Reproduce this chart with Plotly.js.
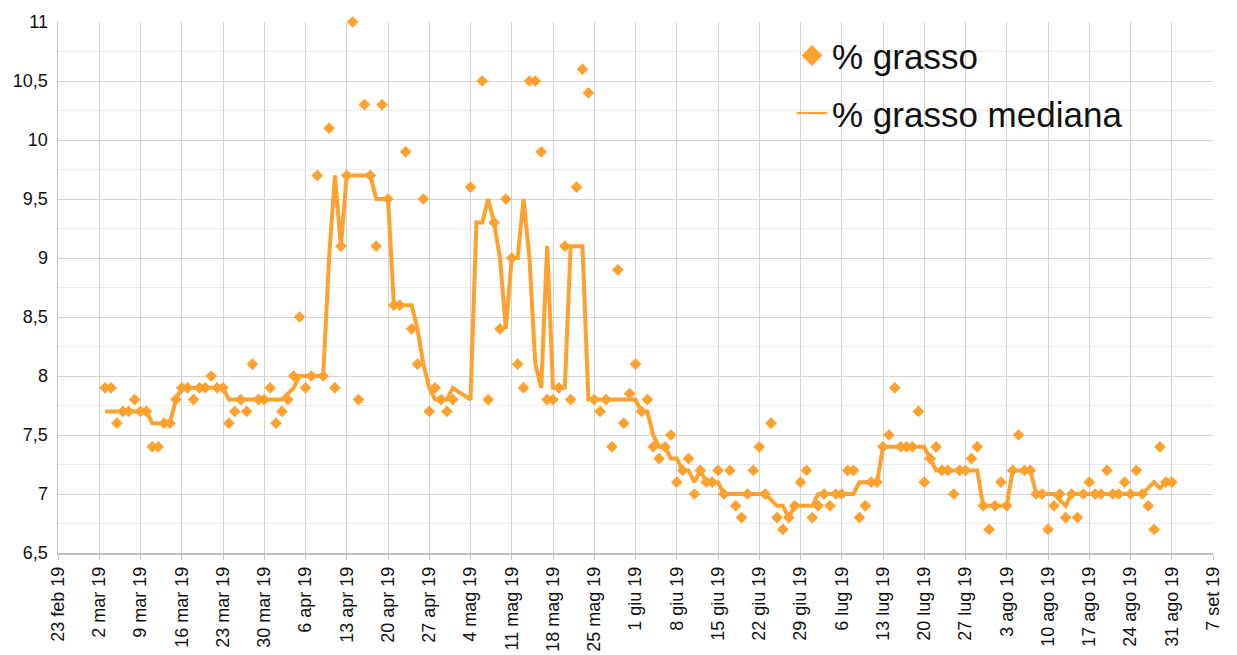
<!DOCTYPE html>
<html>
<head>
<meta charset="utf-8">
<script src="https://cdn.plot.ly/plotly-3.0.1.min.js"></script>
<style>
  html, body { margin: 0; padding: 0; background: #fff; }
  #chart { width: 1237px; height: 655px; }
</style>
</head>
<body>
<div id="chart"></div>
<script>
// one value per day, first day = 3 mar 2019, null = no measurement
var firstDay = '2019-03-03';

var grasso = [
  7.9, 7.9, 7.6, 7.7, 7.7, 7.8, 7.7,
  7.7, 7.4, 7.4, 7.6, 7.6, 7.8, 7.9,
  7.9, 7.8, 7.9, 7.9, 8.0, 7.9, 7.9,
  7.6, 7.7, 7.8, 7.7, 8.1, 7.8, 7.8,
  7.9, 7.6, 7.7, 7.8, 8.0, 8.5, 7.9,
  8.0, 9.7, 8.0, 10.1, 7.9, 9.1, 9.7,
  11.0, 7.8, 10.3, 9.7, 9.1, 10.3, 9.5,
  8.6, 8.6, 9.9, 8.4, 8.1, 9.5, 7.7,
  7.9, 7.8, 7.7, 7.8, null, null, 9.6,
  null, 10.5, 7.8, 9.3, 8.4, 9.5, 9.0,
  8.1, 7.9, 10.5, 10.5, 9.9, 7.8, 7.8,
  7.9, 9.1, 7.8, 9.6, 10.6, 10.4, 7.8,
  7.7, 7.8, 7.4, 8.9, 7.6, 7.85, 8.1,
  7.7, 7.8, 7.4, 7.3, 7.4, 7.5, 7.1,
  7.2, 7.3, 7.0, 7.2, 7.1, 7.1, 7.2,
  7.0, 7.2, 6.9, 6.8, 7.0, 7.2, 7.4,
  7.0, 7.6, 6.8, 6.7, 6.8, 6.9, 7.1,
  7.2, 6.8, 6.9, 7.0, 6.9, 7.0, 7.0,
  7.2, 7.2, 6.8, 6.9, 7.1, 7.1, 7.4,
  7.5, 7.9, 7.4, 7.4, 7.4, 7.7, 7.1,
  7.3, 7.4, 7.2, 7.2, 7.0, 7.2, 7.2,
  7.3, 7.4, 6.9, 6.7, 6.9, 7.1, 6.9,
  7.2, 7.5, 7.2, 7.2, 7.0, 7.0, 6.7,
  6.9, 7.0, 6.8, 7.0, 6.8, 7.0, 7.1,
  7.0, 7.0, 7.2, 7.0, 7.0, 7.1, 7.0,
  7.2, 7.0, 6.9, 6.7, 7.4, 7.1, 7.1
];

var grassoMediana = [
  7.7, 7.7, 7.7, 7.7, 7.7, 7.7, 7.7,
  7.7, 7.6, 7.6, 7.6, 7.6, 7.8, 7.9,
  7.9, 7.9, 7.9, 7.9, 7.9, 7.9, 7.9,
  7.8, 7.8, 7.8, 7.8, 7.8, 7.8, 7.8,
  7.8, 7.8, 7.8, 7.85, 7.9, 8.0, 8.0,
  8.0, 8.0, 8.0, 9.0, 9.7, 9.1, 9.7,
  9.7, 9.7, 9.7, 9.7, 9.5, 9.5, 9.5,
  8.6, 8.6, 8.6, 8.6, 8.4, 8.1, 7.9,
  7.8, 7.8, 7.8, 7.9, null, null, 7.8,
  9.3, 9.3, 9.5, 9.3, 9.0, 8.4, 9.0,
  9.0, 9.5, 9.0, 8.1, 7.9, 9.1, 7.9,
  7.9, 7.9, 9.1, 9.1, 9.1, 7.8, 7.8,
  7.8, 7.8, 7.8, 7.8, 7.8, 7.8, 7.8,
  7.7, 7.7, 7.5, 7.4, 7.4, 7.3, 7.3,
  7.2, 7.2, 7.1, 7.2, 7.1, 7.1, 7.1,
  7.0, 7.0, 7.0, 7.0, 7.0, 7.0, 7.0,
  7.0, 6.95, 6.9, 6.9, 6.8, 6.9, 6.9,
  6.9, 6.9, 7.0, 7.0, 7.0, 7.0, 7.0,
  7.0, 7.0, 7.1, 7.1, 7.1, 7.1, 7.4,
  7.4, 7.4, 7.4, 7.4, 7.4, 7.4, 7.4,
  7.3, 7.2, 7.2, 7.2, 7.2, 7.2, 7.2,
  7.2, 7.2, 6.9, 6.9, 6.9, 6.9, 6.9,
  7.2, 7.2, 7.2, 7.2, 7.0, 7.0, 7.0,
  7.0, 6.95, 6.9, 7.0, 7.0, 7.0, 7.0,
  7.0, 7.0, 7.0, 7.0, 7.0, 7.0, 7.0,
  7.0, 7.0, 7.05, 7.1, 7.05, 7.1, 7.1
];

// weekly ticks from 23 feb 19
var tickStart = '2019-02-23';
var tickLabels = [
  '23 feb 19', '2 mar 19', '9 mar 19', '16 mar 19', '23 mar 19', '30 mar 19',
  '6 apr 19', '13 apr 19', '20 apr 19', '27 apr 19', '4 mag 19', '11 mag 19',
  '18 mag 19', '25 mag 19', '1 giu 19', '8 giu 19', '15 giu 19', '22 giu 19',
  '29 giu 19', '6 lug 19', '13 lug 19', '20 lug 19', '27 lug 19', '3 ago 19',
  '10 ago 19', '17 ago 19', '24 ago 19', '31 ago 19', '7 set 19'
];

function addDays(iso, n) {
  var d = new Date(iso + 'T00:00:00Z');
  d.setUTCDate(d.getUTCDate() + n);
  return d.toISOString().slice(0, 10);
}

var days = grasso.map(function(v, i) { return addDays(firstDay, i); });
var tickVals = tickLabels.map(function(t, i) { return addDays(tickStart, 7 * i); });

var orange = '#ffa12e';
var font = 'Liberation Sans, Arial, sans-serif';

var trace1 = {
  x: days,
  y: grasso,
  name: '% grasso',
  type: 'scatter',
  mode: 'markers',
  cliponaxis: false,
  marker: { symbol: 'diamond', size: 9, color: orange },
  showlegend: false
};

var trace2 = {
  x: days,
  y: grassoMediana,
  name: '% grasso mediana',
  type: 'scatter',
  mode: 'lines',
  connectgaps: true,
  line: { color: orange, width: 4 },
  showlegend: false
};

// legend-only entries (bigger diamond, thin line, as in the original legend)
var legend1 = {
  x: [null], y: [null],
  name: '% grasso',
  type: 'scatter',
  mode: 'markers',
  marker: { symbol: 'diamond', size: 16, color: orange },
  legendgroup: 'a'
};

var legend2 = {
  x: [null], y: [null],
  name: '% grasso mediana',
  type: 'scatter',
  mode: 'lines',
  line: { color: orange, width: 2 },
  legendgroup: 'b'
};

var layout = {
  width: 1237,
  height: 655,
  margin: { l: 58, r: 24, t: 22, b: 102 },
  paper_bgcolor: '#fff',
  plot_bgcolor: '#fff',
  separators: ',.',
  font: { family: font, size: 18, color: '#111' },
  showlegend: true,
  legend: {
    x: 0.6355, y: 0.992, xanchor: 'left', yanchor: 'top',
    bgcolor: 'rgba(0,0,0,0)',
    font: { family: font, size: 35, color: '#111' },
    traceorder: 'grouped',
    tracegroupgap: 9,
    itemsizing: 'trace'
  },
  xaxis: {
    type: 'date',
    range: [tickStart, addDays(tickStart, 196)],
    tickmode: 'array',
    tickvals: tickVals,
    ticktext: tickLabels,
    tickangle: -90,
    ticks: 'outside',
    ticklen: 5,
    tickcolor: '#c8c8c8',
    showgrid: true,
    gridcolor: '#d4d4d4',
    gridwidth: 1,
    showline: true,
    linecolor: '#c0c0c0',
    linewidth: 1.5,
    zeroline: false,
    tickfont: { family: font, size: 18, color: '#111' }
  },
  yaxis: {
    range: [6.5, 11],
    dtick: 0.5,
    tick0: 6.5,
    ticks: '',
    ticklabelstandoff: 5,
    showgrid: true,
    gridcolor: '#d4d4d4',
    gridwidth: 1,
    minor: { dtick: 0.25, showgrid: true, gridcolor: '#ececec', gridwidth: 1 },
    showline: true,
    linecolor: '#c0c0c0',
    linewidth: 1.5,
    zeroline: false,
    tickfont: { family: font, size: 18, color: '#111' }
  }
};

Plotly.newPlot('chart', [trace1, trace2, legend1, legend2], layout, { staticPlot: true, displayModeBar: false });
</script>
</body>
</html>
